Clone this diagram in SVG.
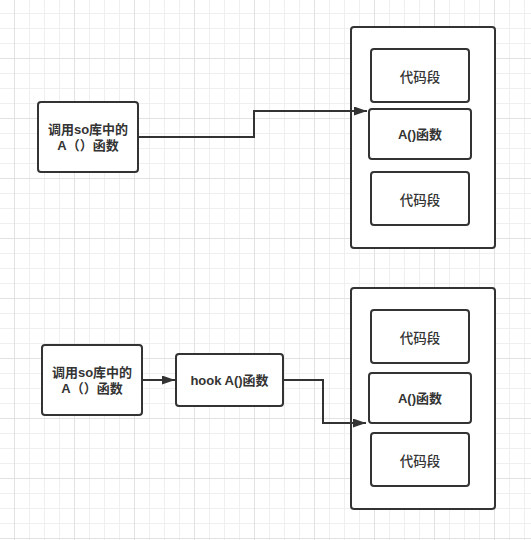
<svg xmlns="http://www.w3.org/2000/svg" width="531" height="540" viewBox="0 0 531 540">
<style>
.box{fill:#fff;stroke:#333;stroke-width:2}
.t{font-family:"Liberation Sans","Noto Sans CJK SC",sans-serif;font-size:13px;fill:#333;text-anchor:middle;dominant-baseline:central}
.m{font-family:"Noto Sans CJK SC",sans-serif;font-weight:500;font-size:13.5px}
.b{font-weight:bold}
.c{fill:none;stroke:#333;stroke-width:2}
</style>
<defs>
<pattern id="minor" width="15" height="15" x="14" y="13" patternUnits="userSpaceOnUse">
<path d="M0.5 0V15M0 0.5H15" stroke="#efefef" stroke-width="1" fill="none"/>
</pattern>
<pattern id="major" width="60" height="60" x="14" y="-2" patternUnits="userSpaceOnUse">
<path d="M0.5 0V60M0 0.5H60" stroke="#e2e2e2" stroke-width="1" fill="none"/>
</pattern>
<marker id="arr" viewBox="0 0 13 9" refX="13" refY="4.5" markerWidth="13" markerHeight="9" markerUnits="userSpaceOnUse" orient="auto">
<path d="M0 0L13 4.5L0 9Z" fill="#333"/>
</marker>
</defs>
<rect width="531" height="540" fill="#fff"/>
<rect width="531" height="540" fill="url(#minor)"/>
<rect width="531" height="540" fill="url(#major)"/>

<g id="container1"><rect class="box" x="351" y="27" width="144" height="221" rx="3"/></g>
<g id="container2"><rect class="box" x="351" y="288" width="144" height="221" rx="3"/></g>

<g id="call1">
<rect class="box" x="38" y="102" width="100" height="70" rx="3"/>
<text class="t b" x="88" y="129">调用so库中的</text>
<text class="t b" x="88" y="145">A（）函数</text>
</g>
<g id="seg1a">
<rect class="box" x="371" y="49" width="98" height="53" rx="3"/>
<text class="t m" x="420" y="76">代码段</text>
</g>
<g id="func1">
<rect class="box" x="369" y="109" width="102" height="50" rx="3"/>
<text class="t b" x="420" y="134">A()函数</text>
</g>
<g id="seg1b">
<rect class="box" x="371" y="172" width="98" height="53" rx="3"/>
<text class="t m" x="420" y="199">代码段</text>
</g>

<g id="call2">
<rect class="box" x="42" y="345" width="100" height="70" rx="3"/>
<text class="t b" x="92" y="372">调用so库中的</text>
<text class="t b" x="92" y="388">A（）函数</text>
</g>
<g id="hook">
<rect class="box" x="176" y="354" width="107" height="52" rx="3"/>
<text class="t b" x="229.5" y="380">hook A()函数</text>
</g>
<g id="seg2a">
<rect class="box" x="371" y="310" width="98" height="53" rx="3"/>
<text class="t m" x="420" y="337">代码段</text>
</g>
<g id="func2">
<rect class="box" x="369" y="373" width="102" height="50" rx="3"/>
<text class="t b" x="420" y="398">A()函数</text>
</g>
<g id="seg2b">
<rect class="box" x="371" y="433" width="98" height="53" rx="3"/>
<text class="t m" x="420" y="460">代码段</text>
</g>

<g id="connectors">
<path class="c" d="M138 137H254V111H367" marker-end="url(#arr)"/>
<path class="c" d="M142 380H175" marker-end="url(#arr)"/>
<path class="c" d="M283 380H323V423H366" marker-end="url(#arr)"/>
</g>
</svg>
